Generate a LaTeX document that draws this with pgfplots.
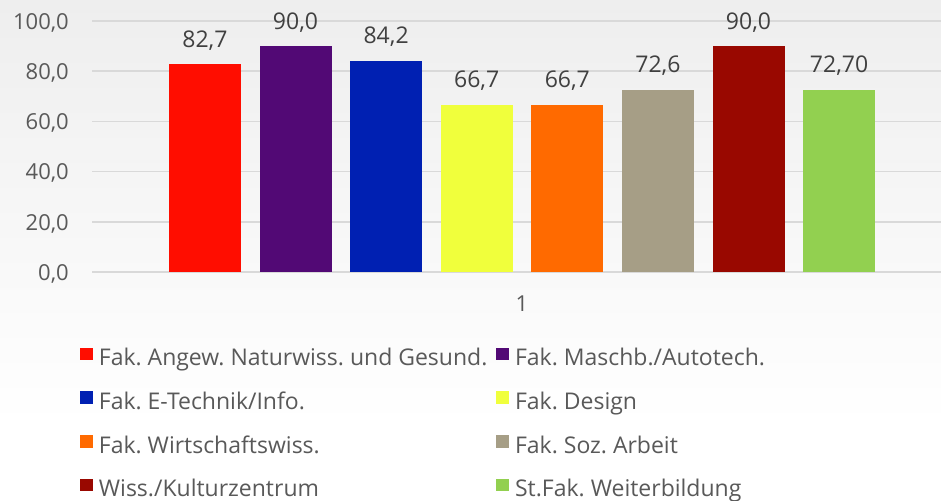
\documentclass[border=0pt]{standalone}
\usepackage{fontspec}
\setmainfont{Open Sans}
\usepackage{pgfplots}
\pgfplotsset{compat=1.18}
\definecolor{bgtop}{RGB}{238,238,238}
\definecolor{gridc}{RGB}{217,217,217}
\definecolor{tickc}{RGB}{89,89,89}
\definecolor{valc}{RGB}{64,64,64}
\definecolor{cA}{RGB}{255,13,0}
\definecolor{cB}{RGB}{82,9,117}
\definecolor{cC}{RGB}{0,32,178}
\definecolor{cD}{RGB}{240,255,60}
\definecolor{cE}{RGB}{255,106,0}
\definecolor{cF}{RGB}{166,158,134}
\definecolor{cG}{RGB}{153,8,0}
\definecolor{cH}{RGB}{146,208,80}
\begin{document}
\frenchspacing
\begin{tikzpicture}[x=1pt,y=1pt]
\shade[top color=bgtop,bottom color=white] (0,-425) rectangle (941,0);
\fill[white] (0,-500) rectangle (941,-425);
\begin{axis}[
 at={(92pt,-272pt)}, anchor=south west,
 scale only axis, width=849pt, height=251pt,
 xmin=-0.01296, xmax=1.98704, ymin=0, ymax=100,
 ybar=18.6pt, bar width=72pt,
 xtick={1}, xticklabels={1}, ytick={0,20,40,60,80,100},
 axis line style={draw=none}, tick style={draw=none},
 ymajorgrids, grid style={gridc, line width=1.5pt},
 /pgf/number format/.cd, fixed, fixed zerofill, precision=1, use comma, assume math mode=true, /pgfplots/.cd,
 ticklabel style={font=\fontsize{22}{26}\selectfont, text=tickc, inner sep=0pt},
 yticklabel style={anchor=base east, xshift=-23pt, yshift=-8.3pt},
 xticklabel style={anchor=base, yshift=-35pt},
 nodes near coords, point meta=explicit symbolic,
 nodes near coords style={font=\fontsize{23}{27}\selectfont, text=valc, anchor=base, inner sep=0pt, yshift=17pt},
 legend columns=2,
 legend cell align=left,
 legend style={at={(-0.01413,-0.30)}, anchor=north west, draw=none, fill=none, inner sep=0pt,
   font=\fontsize{23}{27}\selectfont, text=tickc, row sep=20.5pt,
   nodes={inner sep=0pt, text height=16pt, text depth=5pt},
   /tikz/every odd column/.append style={column sep=6pt},
   /tikz/every even column/.append style={column sep=9pt}},
 legend image code/.code={\fill[#1] (0pt,0pt) rectangle (12.7pt,12.7pt);},
]
\addplot[fill=cA, draw=none] coordinates {(1,82.7) [82,7]};
\addlegendentry{Fak. Angew. Naturwiss. und Gesund.}
\addplot[fill=cB, draw=none] coordinates {(1,90.0) [90,0]};
\addlegendentry{Fak. Maschb./Autotech.}
\addplot[fill=cC, draw=none] coordinates {(1,84.2) [84,2]};
\addlegendentry{Fak. E-Technik/Info.}
\addplot[fill=cD, draw=none] coordinates {(1,66.7) [66,7]};
\addlegendentry{Fak. Design}
\addplot[fill=cE, draw=none] coordinates {(1,66.7) [66,7]};
\addlegendentry{Fak. Wirtschaftswiss.}
\addplot[fill=cF, draw=none] coordinates {(1,72.6) [72,6]};
\addlegendentry{Fak. Soz. Arbeit}
\addplot[fill=cG, draw=none] coordinates {(1,90.0) [90,0]};
\addlegendentry{Wiss./Kulturzentrum}
\addplot[fill=cH, draw=none] coordinates {(1,72.7) [72,70]};
\addlegendentry{St.Fak. Weiterbildung}
\end{axis}
\pgfresetboundingbox
\useasboundingbox (0,0) rectangle (941,-500);
\end{tikzpicture}
\end{document}
